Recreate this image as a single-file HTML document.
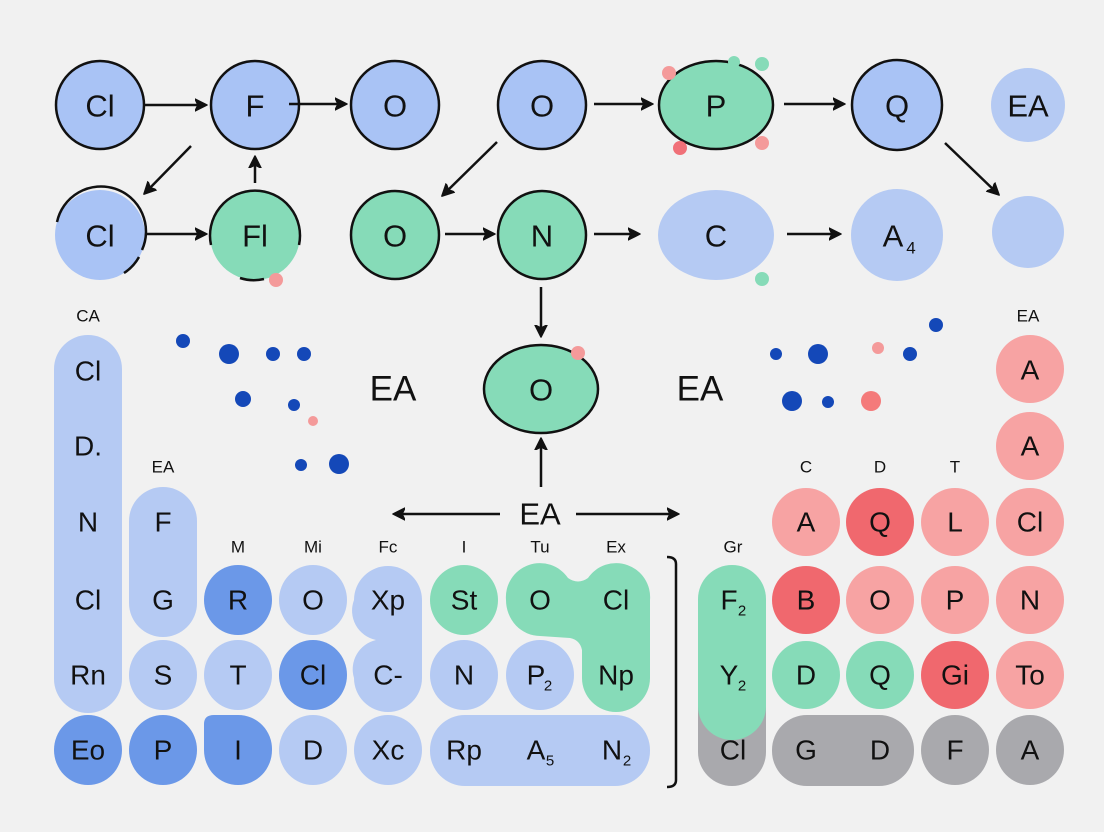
<!DOCTYPE html>
<html><head><meta charset="utf-8"><style>
html,body{margin:0;padding:0;background:#f1f1f1;}
svg{display:block;}
text{font-family:"Liberation Sans",sans-serif;fill:#111;text-anchor:middle;dominant-baseline:central;}
.n{font-size:31px;}
.s{font-size:17px;}
.e{font-size:35px;}
</style></head><body>
<svg width="1104" height="832" viewBox="0 0 1104 832" xmlns="http://www.w3.org/2000/svg">
<defs>
<marker id="ah" markerWidth="14" markerHeight="14" refX="9" refY="7" orient="auto" markerUnits="userSpaceOnUse">
<path d="M0,1 L12,7 L0,13 L3,7 z" fill="#111" stroke="#111" stroke-width="1.5" stroke-linejoin="round"/>
</marker>
</defs>
<rect width="1104" height="832" fill="#f1f1f1"/>
<g stroke="#111" stroke-width="2.5">
<circle cx="100" cy="105" r="44" fill="#a9c3f5"/>
<circle cx="255" cy="105" r="44" fill="#a9c3f5"/>
<circle cx="395" cy="105" r="44" fill="#a9c3f5"/>
<circle cx="542" cy="105" r="44" fill="#a9c3f5"/>
<ellipse cx="716" cy="105" rx="57" ry="44" fill="#86dbb8"/>
<circle cx="897" cy="105" r="45" fill="#a9c3f5"/>
<circle cx="395" cy="235" r="44" fill="#86dbb8"/>
<circle cx="542" cy="235" r="44" fill="#86dbb8"/>
<ellipse cx="541" cy="389" rx="57" ry="44" fill="#86dbb8"/>
</g>
<circle cx="100" cy="235" r="45" fill="#a9c3f5"/>
<path d="M57,222 A45,45 0 1 1 142,250 M139,257 A45,45 0 0 1 124,273" fill="none" stroke="#111" stroke-width="2.5"/>
<circle cx="255" cy="235" r="45" fill="#86dbb8"/>
<path d="M211,245 A45,45 0 1 1 299,245 M264,279 A45,45 0 0 1 240,278" fill="none" stroke="#111" stroke-width="2.5"/>
<ellipse cx="716" cy="235" rx="58" ry="45" fill="#b5caf3"/>
<circle cx="897" cy="235" r="46" fill="#b5caf3"/>
<circle cx="1028" cy="105" r="37" fill="#b5caf3"/>
<circle cx="1028" cy="232" r="36" fill="#b5caf3"/>
<g fill="none" stroke="#111" stroke-width="2.5" marker-end="url(#ah)">
<line x1="145" y1="105" x2="204" y2="105"/>
<line x1="289" y1="104" x2="344" y2="104"/>
<line x1="594" y1="104" x2="650" y2="104"/>
<line x1="784" y1="104" x2="842" y2="104"/>
<line x1="191" y1="146" x2="146" y2="192"/>
<line x1="255" y1="183" x2="255" y2="159"/>
<line x1="145" y1="234" x2="204" y2="234"/>
<line x1="497" y1="142" x2="444" y2="194"/>
<line x1="445" y1="234" x2="492" y2="234"/>
<line x1="594" y1="234" x2="637" y2="234"/>
<line x1="787" y1="234" x2="838" y2="234"/>
<line x1="945" y1="143" x2="997" y2="193"/>
<line x1="541" y1="287" x2="541" y2="334"/>
<line x1="541" y1="487" x2="541" y2="441"/>
<line x1="500" y1="514" x2="396" y2="514"/>
<line x1="576" y1="514" x2="676" y2="514"/>
</g>
<g class="n">
<text x="100" y="106">Cl</text><text x="255" y="106">F</text><text x="395" y="106">O</text><text x="542" y="106">O</text>
<text x="716" y="106">P</text><text x="897" y="106">Q</text><text x="1028" y="106">EA</text>
<text x="100" y="236">Cl</text><text x="255" y="236">Fl</text><text x="395" y="236">O</text><text x="542" y="236">N</text>
<text x="716" y="236">C</text><text x="893" y="236">A</text><text x="911" y="248" font-size="17">4</text>
<text x="541" y="390">O</text>
</g>
<text class="e" x="393" y="389">EA</text><text class="e" x="700" y="389">EA</text><text class="n" x="540" y="514">EA</text>
<g fill="#f49a9a"><circle cx="669" cy="73" r="7"/><circle cx="762" cy="143" r="7"/><circle cx="276" cy="280" r="7"/><circle cx="578" cy="353" r="7"/><circle cx="313" cy="421" r="5"/><circle cx="878" cy="348" r="6"/></g>
<circle cx="680" cy="148" r="7" fill="#f07078"/>
<circle cx="871" cy="401" r="10" fill="#f47a7a"/>
<g fill="#86dbb8"><circle cx="734" cy="62" r="6"/><circle cx="762" cy="64" r="7"/><circle cx="762" cy="279" r="7"/></g>
<g fill="#1448b8">
<circle cx="183" cy="341" r="7"/><circle cx="229" cy="354" r="10"/><circle cx="273" cy="354" r="7"/><circle cx="304" cy="354" r="7"/>
<circle cx="243" cy="399" r="8"/><circle cx="294" cy="405" r="6"/><circle cx="301" cy="465" r="6"/><circle cx="339" cy="464" r="10"/>
<circle cx="776" cy="354" r="6"/><circle cx="818" cy="354" r="10"/><circle cx="910" cy="354" r="7"/><circle cx="936" cy="325" r="7"/>
<circle cx="792" cy="401" r="10"/><circle cx="828" cy="402" r="6"/>
</g>
<g fill="#b5caf3">
<rect x="54" y="335" width="68" height="378" rx="34"/>
<rect x="129" y="487" width="68" height="150" rx="34"/>
<ellipse cx="163" cy="675" rx="34" ry="35"/>
<ellipse cx="238" cy="675" rx="34" ry="35"/>
<ellipse cx="313" cy="600" rx="34" ry="35"/>
<ellipse cx="313" cy="750" rx="34" ry="35"/>
<path d="M354,600 A34,34 0 0 1 422,600 L422,678 A34,34 0 0 1 354,678 A30,30 0 0 1 376,640 A30,30 0 0 1 354,600 Z"/>
<ellipse cx="388" cy="750" rx="34" ry="35"/>
<ellipse cx="464" cy="675" rx="34" ry="35"/>
<ellipse cx="540" cy="675" rx="34" ry="35"/>
<rect x="430" y="715" width="220" height="71" rx="35"/>
</g>
<g fill="#6b98e8">
<ellipse cx="238" cy="600" rx="34" ry="35"/>
<ellipse cx="313" cy="675" rx="34" ry="35"/>
<ellipse cx="88" cy="750" rx="34" ry="35"/>
<ellipse cx="163" cy="750" rx="34" ry="35"/>
<path d="M204,724 Q204,715 214,715 L238,715 A34,34 0 0 1 272,750 A34,35 0 0 1 204,750 Z"/>
</g>
<g fill="#86dbb8">
<ellipse cx="464" cy="600" rx="34" ry="35"/>
<path d="M506,600 A34,34 0 0 1 568,578 Q578,585 588,578 A34,34 0 0 1 650,600 L650,678 A34,34 0 0 1 582,678 L582,650 Q580,640 570,638 L540,636 A34,36 0 0 1 506,600 Z"/>
</g>
<path d="M667,557 Q676,557 676,564 L676,780 Q676,787 667,787" fill="none" stroke="#111" stroke-width="2.5"/>
<rect x="698" y="615" width="68" height="171" rx="34" fill="#a9a9ad"/>
<rect x="698" y="565" width="68" height="175" rx="34" fill="#86dbb8"/>
<rect x="772" y="715" width="142" height="71" rx="35" fill="#a9a9ad"/>
<ellipse cx="955" cy="750" rx="34" ry="35" fill="#a9a9ad"/>
<ellipse cx="1030" cy="750" rx="34" ry="35" fill="#a9a9ad"/>
<g fill="#f7a3a3">
<ellipse cx="1030" cy="369" rx="34" ry="34"/><ellipse cx="1030" cy="446" rx="34" ry="34"/>
<ellipse cx="806" cy="522" rx="34" ry="34"/><ellipse cx="955" cy="522" rx="34" ry="34"/><ellipse cx="1030" cy="522" rx="34" ry="34"/>
<ellipse cx="880" cy="600" rx="34" ry="34"/><ellipse cx="955" cy="600" rx="34" ry="34"/><ellipse cx="1030" cy="600" rx="34" ry="34"/>
<ellipse cx="1030" cy="675" rx="34" ry="34"/>
</g>
<g fill="#f0686e">
<ellipse cx="880" cy="522" rx="34" ry="34"/><ellipse cx="806" cy="600" rx="34" ry="34"/><ellipse cx="955" cy="675" rx="34" ry="34"/>
</g>
<g fill="#86dbb8"><ellipse cx="806" cy="675" rx="34" ry="34"/><ellipse cx="880" cy="675" rx="34" ry="34"/></g>
<g class="s">
<text x="88" y="316">CA</text><text x="163" y="467">EA</text>
<text x="238" y="547">M</text><text x="313" y="547">Mi</text><text x="388" y="547">Fc</text><text x="464" y="547">I</text><text x="540" y="547">Tu</text><text x="616" y="547">Ex</text>
<text x="733" y="547">Gr</text><text x="806" y="467">C</text><text x="880" y="467">D</text><text x="955" y="467">T</text><text x="1028" y="316">EA</text>
</g>
<g class="n" style="font-size:28px">
<text x="88" y="371">Cl</text><text x="88" y="446">D.</text><text x="88" y="522">N</text><text x="88" y="600">Cl</text><text x="88" y="675">Rn</text><text x="88" y="750">Eo</text>
<text x="163" y="522">F</text><text x="163" y="600">G</text><text x="163" y="675">S</text><text x="163" y="750">P</text>
<text x="238" y="600">R</text><text x="238" y="675">T</text><text x="238" y="750">I</text>
<text x="313" y="600">O</text><text x="313" y="675">Cl</text><text x="313" y="750">D</text>
<text x="388" y="600">Xp</text><text x="388" y="675">C-</text><text x="388" y="750">Xc</text>
<text x="464" y="600">St</text><text x="464" y="675">N</text><text x="464" y="750">Rp</text>
<text x="540" y="600">O</text><text x="536" y="675">P</text><text x="548" y="686" font-size="15">2</text>
<text x="536" y="750">A</text><text x="550" y="761" font-size="15">5</text>
<text x="616" y="600">Cl</text><text x="616" y="675">Np</text><text x="612" y="750">N</text><text x="627" y="761" font-size="15">2</text>
<text x="729" y="600">F</text><text x="742" y="611" font-size="15">2</text>
<text x="729" y="675">Y</text><text x="742" y="686" font-size="15">2</text>
<text x="733" y="750">Cl</text>
<text x="806" y="522">A</text><text x="880" y="522">Q</text><text x="955" y="522">L</text><text x="1030" y="522">Cl</text>
<text x="806" y="600">B</text><text x="880" y="600">O</text><text x="955" y="600">P</text><text x="1030" y="600">N</text>
<text x="806" y="675">D</text><text x="880" y="675">Q</text><text x="955" y="675">Gi</text><text x="1030" y="675">To</text>
<text x="806" y="750">G</text><text x="880" y="750">D</text><text x="955" y="750">F</text><text x="1030" y="750">A</text>
<text x="1030" y="370">A</text><text x="1030" y="446">A</text>
</g>
</svg>
</body></html>
